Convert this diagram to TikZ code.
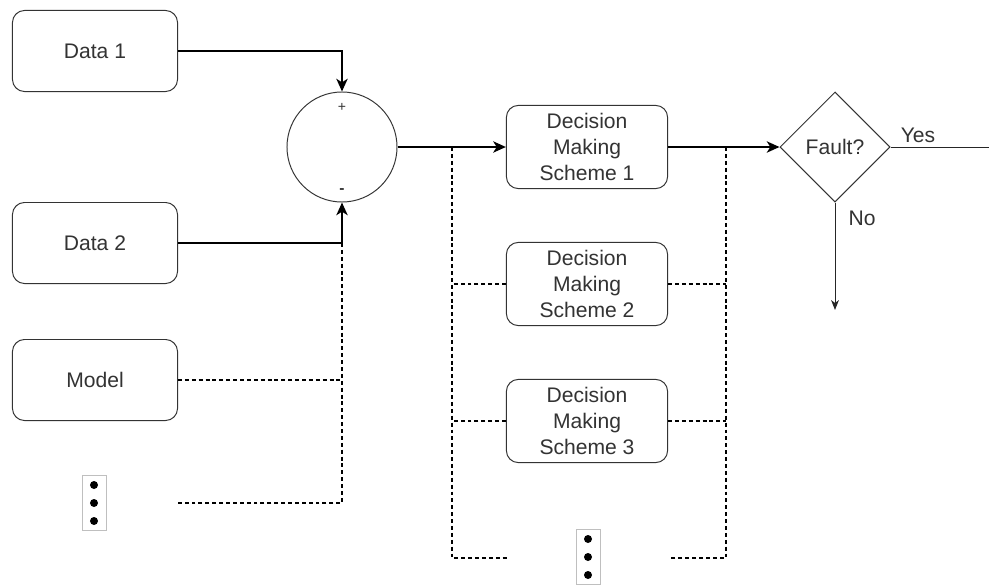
\documentclass[tikz,border=0pt]{standalone}
\usepackage{fontspec}
\setmainfont{Liberation Sans}
\usetikzlibrary{positioning}
\usetikzlibrary{arrows.meta}
\usetikzlibrary{calc}
\usetikzlibrary{shapes.geometric}

\begin{document}
\begin{tikzpicture}[
    x=0.025cm, y=-0.025cm,
    font=\fontsize{15}{18.5}\selectfont,
    box/.style={align=center, rectangle, rounded corners=0.3cm, draw=black!80, fill=white, text=black!80, minimum width=4.125cm, minimum height=2.025cm, line width=0.7pt},
    scheme/.style={box, minimum width=4.03cm, minimum height=2.08cm, inner sep=1pt},
    sumnode/.style={circle, draw=black!80, minimum size=2.75cm, line width=0.7pt},
    decision/.style={diamond, draw=black!80, minimum width=2.75cm, minimum height=2.75cm, inner sep=0pt, text=black!80, line width=0.7pt},
    dotsbox/.style={rectangle, draw=black!25, minimum width=0.6cm, minimum height=1.375cm, inner sep=0pt, line width=0.5pt},
    flow/.style={line width=1.6pt, -{Stealth[length=9pt, width=8pt, inset=2.5pt]}},
    bus/.style={line width=0.75pt, dash pattern=on 2.8pt off 2.1pt},
    answer/.style={line width=0.7pt, draw=black!85}
]
    \useasboundingbox (0,0) rectangle (989,586);

    % Inputs
    \node[box] (D1) at (95,51) {Data 1};
    \node[box] (D2) at (95,243) {Data 2};
    \node[box] (M) at (95,380) {Model};
    \node[dotsbox] (V1) at (94,503) {};
    \foreach \k in {-18,0,18}
        \fill ($(V1.center)+(0,\k)$) circle (0.1cm);

    % Comparison
    \node[sumnode] (S) at (342,147) {};
    \node[font=\fontsize{10}{12}\selectfont, text=black!80] (P) at ($(S.north)+(0,16)$) {+};
    \node[font=\bfseries\fontsize{11}{12}\selectfont, text=black!80] (N) at ($(S.south)+(0,-11)$) {-};

    % Decision making schemes
    \node[scheme] (S1) at (587,147) {Decision\\Making\\Scheme 1};
    \node[scheme] (S2) at (587,284) {Decision\\Making\\Scheme 2};
    \node[scheme] (S3) at (587,421) {Decision\\Making\\Scheme 3};
    \node[dotsbox] (V2) at (588,557) {};
    \foreach \k in {-18,0,18}
        \fill ($(V2.center)+(0,\k)$) circle (0.1cm);

    % Fault check
    \node[decision] (F) at (835,147) {Fault?};

    % Bus corners and free ends
    \coordinate (J1) at (S.south |- D2.east);
    \coordinate (J2) at (342,503);
    \coordinate (E1) at (176,503);
    \coordinate (L1) at (452,147);
    \coordinate (L2) at (452,558);
    \coordinate (B1) at (507,558);
    \coordinate (R1) at (726,147);
    \coordinate (R2) at (726,558);
    \coordinate (B2) at (670,558);
    \coordinate (Y) at (989,147);
    \coordinate (Z) at (835,310);

    % Connections
    \draw[flow] (D1.east) -| (S.north);
    \draw[flow] (D2.east) -| (S.south);
    \draw[bus] (M.east) -- (M.east -| J1);
    \draw[bus] (J1) -- (J2) -- (E1);

    \draw[flow] (S.east) -- (S1.west);
    \draw[flow] (S1.east) -- (F.west);

    \draw[bus] (L1) -- (L2) -- (B1);
    \draw[bus] (R1) -- (R2) -- (B2);
    \draw[bus] (S2.west) -- (S2.west -| L1);
    \draw[bus] (S3.west) -- (S3.west -| L1);
    \draw[bus] (S2.east) -- (S2.east -| R1);
    \draw[bus] (S3.east) -- (S3.east -| R1);

    \draw[answer] (F.east) -- (Y);
    \node[text=black!80] (YL) at (918,135) {Yes};
    \draw[answer, -{Stealth[length=7pt, width=5.5pt, inset=2pt]}] (F.south) -- (Z);
    \node[text=black!80] (NL) at (862,218) {No};
\end{tikzpicture}
\end{document}
